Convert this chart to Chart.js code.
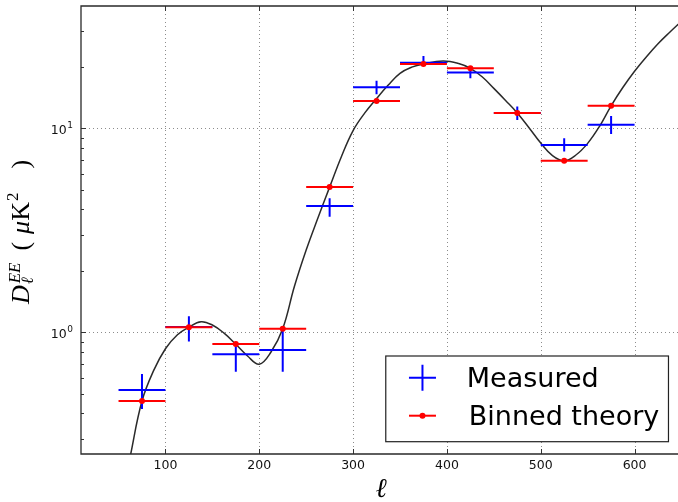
<!DOCTYPE html>
<html>
<head>
<meta charset="utf-8">
<title>EE power spectrum</title>
<script src="https://cdn.jsdelivr.net/npm/chart.js@4.4.1/dist/chart.umd.min.js"></script>
<style>
  html, body { margin: 0; padding: 0; background: #fff; overflow: hidden; }
  #plot { display: block; }
</style>
</head>
<body>
<canvas id="plot" width="678" height="502"></canvas>
<script>
// Multipole bins: centres and half-width
const binCentres = [75, 125, 175, 225, 275, 325, 375, 425, 475, 525, 575];
const binHalfWidth = 25;

// Measured band powers D_ell^EE (muK^2) with lower / upper error limits
const measured     = [0.521, 1.06, 0.78, 0.819, 4.16, 15.9, 21.0, 18.8, 11.9, 8.28, 10.4];
const measuredLow  = [0.42, 0.90, 0.641, 0.641, 3.69, 14.7, 20.4, 17.6, 11.0, 7.69, 9.38];
const measuredHigh = [0.625, 1.20, 0.867, 1.046, 4.54, 17.1, 22.6, 20.0, 12.8, 8.93, 11.5];

// Theory spectrum averaged over the same bins
const binnedTheory = [0.46, 1.058, 0.876, 1.041, 5.15, 13.6, 20.7, 19.7, 11.9, 6.93, 12.9];

// Unbinned theory spectrum
const theoryEll = [60, 63, 75, 87.5, 100, 112.5, 125, 138, 150, 162.5, 175, 187.5, 200,
  212.5, 225, 237.5, 250, 262.5, 275, 287.5, 300, 312.5, 325, 337.5, 350, 362.5, 375,
  396, 412.5, 425, 437.5, 450, 462.5, 475, 487.5, 500, 512.5, 525, 537.5, 550, 562.5,
  575, 587.5, 600, 612.5, 625, 637.5, 650];
const theoryDl = [0.21, 0.253, 0.46, 0.65, 0.83, 0.97, 1.06, 1.127, 1.086, 0.99, 0.873,
  0.765, 0.697, 0.80, 1.04, 1.68, 2.53, 3.63, 5.15, 7.26, 9.75, 11.9, 14.0, 16.3, 18.6,
  19.95, 20.7, 21.4, 20.8, 19.7, 17.9, 15.7, 13.7, 11.9, 10.07, 8.47, 7.35, 6.93, 7.4,
  8.44, 10.2, 12.9, 15.85, 19.05, 22.4, 26.0, 29.6, 33.5];

// Axis ranges, ticks and labels (the window shows the axis up to ~646 of 650)
const xRange = [10, 646.3];
const xAxisEnd = 650;
const yRange = [0.253, 39.8];
const xTicks = [100, 200, 300, 400, 500, 600];
const xTickLabels = ['100', '200', '300', '400', '500', '600'];
const yTicks = [1, 10];
const yTickBase = '10';
const yTickExponents = ['0', '1'];
const legendLabels = ['Measured', 'Binned theory'];

const BLUE = '#0000ff';
const RED = '#ff0000';
const SANS = '"DejaVu Sans", "Liberation Sans", sans-serif';
const SERIF = '"Liberation Serif", "DejaVu Serif", serif';

// Error-bar segments: each bar is two points followed by a gap
const hSegments = vals => binCentres.flatMap((c, i) => [
  { x: c - binHalfWidth, y: vals[i] }, { x: c + binHalfWidth, y: vals[i] }, { x: c, y: null }]);
const vSegments = (lo, hi) => binCentres.flatMap((c, i) => [
  { x: c, y: lo[i] }, { x: c, y: hi[i] }, { x: c, y: null }]);

function minorLogTicks(min, max) {
  const out = [];
  for (let k = Math.floor(Math.log10(min)); k <= Math.ceil(Math.log10(max)); k++) {
    for (let m = 2; m <= 9; m++) {
      const v = m * Math.pow(10, k);
      if (v >= min && v <= max) out.push(v);
    }
  }
  return out;
}

function drawYTitle(ctx, cx, cy) {
  const big = 26, small = 17;
  const it = s => `italic ${s}px ${SERIF}`;
  const up = s => `${s}px ${SERIF}`;
  const w = (t, f) => { ctx.font = f; return ctx.measureText(t).width; };
  const wD = w('D', it(big));
  const wScr = Math.max(w('EE', it(small)), w('\u2113', it(small)));
  const wL = w('(', up(big)), wMu = w('\u03bc', it(big)), wK = w('K', up(big));
  const w2 = w('2', up(small)), wR = w(')', up(big));
  const g1 = 13, g2 = 8, g3 = 24;
  const total = wD + 1 + wScr + g1 + wL + g2 + wMu + wK + 1 + w2 + g3 + wR;
  ctx.save();
  ctx.translate(cx, cy);
  ctx.rotate(-Math.PI / 2);
  ctx.fillStyle = '#000';
  ctx.textBaseline = 'alphabetic';
  ctx.textAlign = 'left';
  let p = -total / 2;
  ctx.font = it(big); ctx.fillText('D', p, 0); p += wD + 1;
  ctx.font = it(small); ctx.fillText('EE', p + 1, -9); ctx.fillText('\u2113', p, 4); p += wScr + g1;
  ctx.font = up(big); ctx.fillText('(', p, 0); p += wL + g2;
  ctx.font = it(big); ctx.fillText('\u03bc', p, 0); p += wMu;
  ctx.font = up(big); ctx.fillText('K', p, 0); p += wK + 1;
  ctx.font = up(small); ctx.fillText('2', p, -11); p += w2 + g3;
  ctx.font = up(big); ctx.fillText(')', p, 0);
  ctx.restore();
}

const framePlugin = {
  id: 'frame',
  beforeDatasetsDraw(chart) {
    const { ctx, chartArea: a, scales: { x, y } } = chart;
    ctx.save();
    ctx.strokeStyle = '#8c8c8c';
    ctx.lineWidth = 1;
    ctx.setLineDash([1, 3]);
    ctx.beginPath();
    xTicks.forEach(v => {
      const px = Math.round(x.getPixelForValue(v)) + 0.5;
      ctx.moveTo(px, a.top); ctx.lineTo(px, a.bottom);
    });
    yTicks.forEach(v => {
      const py = Math.round(y.getPixelForValue(v)) + 0.5;
      ctx.moveTo(a.left, py); ctx.lineTo(a.right, py);
    });
    ctx.stroke();
    ctx.restore();
  },
  afterDatasetsDraw(chart) {
    const { ctx, chartArea: a, scales: { x, y } } = chart;
    ctx.save();
    // tick marks, pointing into the axes
    ctx.strokeStyle = '#333';
    ctx.lineWidth = 1;
    ctx.beginPath();
    xTicks.forEach(v => {
      const px = Math.round(x.getPixelForValue(v)) + 0.5;
      ctx.moveTo(px, a.bottom); ctx.lineTo(px, a.bottom - 5);
      ctx.moveTo(px, a.top); ctx.lineTo(px, a.top + 5);
    });
    yTicks.forEach(v => {
      const py = Math.round(y.getPixelForValue(v)) + 0.5;
      ctx.moveTo(a.left, py); ctx.lineTo(a.left + 5, py);
    });
    minorLogTicks(yRange[0], yRange[1]).forEach(v => {
      const py = Math.round(y.getPixelForValue(v)) + 0.5;
      ctx.moveTo(a.left, py); ctx.lineTo(a.left + 3, py);
    });
    ctx.stroke();

    // axes frame: left, top and bottom spines (the right one lies past the window)
    ctx.strokeStyle = '#2a2a2a';
    ctx.lineWidth = 1.3;
    ctx.beginPath();
    ctx.moveTo(a.right + 2, a.top); ctx.lineTo(a.left, a.top);
    ctx.lineTo(a.left, a.bottom); ctx.lineTo(a.right + 2, a.bottom);
    ctx.stroke();

    // y tick labels, 10 with a raised exponent
    ctx.fillStyle = '#111';
    ctx.textBaseline = 'alphabetic';
    yTicks.forEach((v, i) => {
      const py = y.getPixelForValue(v);
      const right = a.left - 8;
      ctx.font = `9px ${SANS}`;
      const we = ctx.measureText(yTickExponents[i]).width;
      ctx.textAlign = 'right';
      ctx.fillText(yTickExponents[i], right, py - 0.5);
      ctx.font = `12.5px ${SANS}`;
      ctx.fillText(yTickBase, right - we - 0.5, py + 6);
    });

    // legend box (lower right)
    const lw = 282.7, lh = 85.7;
    const lx = x.getPixelForValue(xAxisEnd) - 13 - lw, ly = a.bottom - 12.3 - lh;
    ctx.fillStyle = '#fff';
    ctx.fillRect(lx, ly, lw, lh);
    ctx.strokeStyle = '#222';
    ctx.lineWidth = 1.2;
    ctx.strokeRect(lx, ly, lw, lh);
    const mx = lx + 36.7;
    const r1 = ly + 21.7, r2 = ly + 59.7;
    ctx.lineWidth = 2;
    ctx.strokeStyle = BLUE;
    ctx.beginPath();
    ctx.moveTo(mx - 13.5, r1); ctx.lineTo(mx + 13.5, r1);
    ctx.moveTo(mx, r1 - 13); ctx.lineTo(mx, r1 + 13);
    ctx.stroke();
    ctx.strokeStyle = RED;
    ctx.beginPath();
    ctx.moveTo(mx - 13.5, r2); ctx.lineTo(mx + 13.5, r2);
    ctx.stroke();
    ctx.fillStyle = RED;
    ctx.beginPath();
    ctx.arc(mx, r2, 3, 0, Math.PI * 2);
    ctx.fill();
    ctx.fillStyle = '#000';
    ctx.font = `27px ${SANS}`;
    ctx.textAlign = 'left';
    ctx.textBaseline = 'alphabetic';
    ctx.fillText(legendLabels[0], lx + 81, ly + 31.3);
    ctx.fillText(legendLabels[1], lx + 83, ly + 69);
    ctx.restore();
  },
  afterDraw(chart) {
    const { ctx, chartArea: a, scales: { x } } = chart;
    // x-axis title, centred on the full axis
    ctx.save();
    ctx.fillStyle = '#000';
    ctx.font = `italic 27px ${SERIF}`;
    ctx.textAlign = 'center';
    ctx.textBaseline = 'alphabetic';
    ctx.fillText('\u2113', (a.left + x.getPixelForValue(xAxisEnd)) / 2, 497);
    ctx.restore();
    // y-axis title
    drawYTitle(ctx, 29, (a.top + a.bottom) / 2 + 2);
  }
};

new Chart(document.getElementById('plot'), {
  type: 'line',
  data: {
    datasets: [
      {
        label: 'Binned theory points',
        data: binCentres.map((c, i) => ({ x: c, y: binnedTheory[i] })),
        showLine: false, pointRadius: 3, pointBackgroundColor: RED, pointBorderWidth: 0,
        pointHoverRadius: 0
      },
      {
        label: 'Binned theory',
        data: hSegments(binnedTheory),
        borderColor: RED, borderWidth: 2, pointRadius: 0, spanGaps: false
      },
      {
        label: 'Measured errors',
        data: vSegments(measuredLow, measuredHigh),
        borderColor: BLUE, borderWidth: 2, pointRadius: 0, spanGaps: false
      },
      {
        label: 'Measured',
        data: hSegments(measured),
        borderColor: BLUE, borderWidth: 2, pointRadius: 0, spanGaps: false
      },
      {
        label: 'Theory',
        data: theoryEll.map((l, i) => ({ x: l, y: theoryDl[i] })),
        borderColor: '#2a2a2a', borderWidth: 1.5, pointRadius: 0, tension: 0.4
      }
    ]
  },
  options: {
    responsive: false,
    animation: false,
    events: [],
    devicePixelRatio: 1,
    layout: { autoPadding: false, padding: { top: 6, left: 0, right: 0, bottom: 0 } },
    plugins: { legend: { display: false }, tooltip: { enabled: false } },
    scales: {
      x: {
        type: 'linear', min: xRange[0], max: xRange[1],
        grid: { display: false, drawTicks: false }, border: { display: false },
        afterBuildTicks: s => { s.ticks = xTicks.map(v => ({ value: v })); },
        afterFit: s => { s.height = 48; s.paddingLeft = 0; s.paddingRight = 0; },
        ticks: {
          callback: (v, i) => xTickLabels[i], autoSkip: false, maxRotation: 0,
          font: { family: SANS, size: 12.5 }, color: '#111', padding: 4
        }
      },
      y: {
        type: 'logarithmic', min: yRange[0], max: yRange[1],
        grid: { display: false, drawTicks: false }, border: { display: false },
        afterBuildTicks: s => { s.ticks = yTicks.map(v => ({ value: v })); },
        afterFit: s => { s.width = 81; s.paddingTop = 0; s.paddingBottom = 0; },
        ticks: { display: false }
      }
    }
  },
  plugins: [framePlugin]
});
</script>
</body>
</html>
